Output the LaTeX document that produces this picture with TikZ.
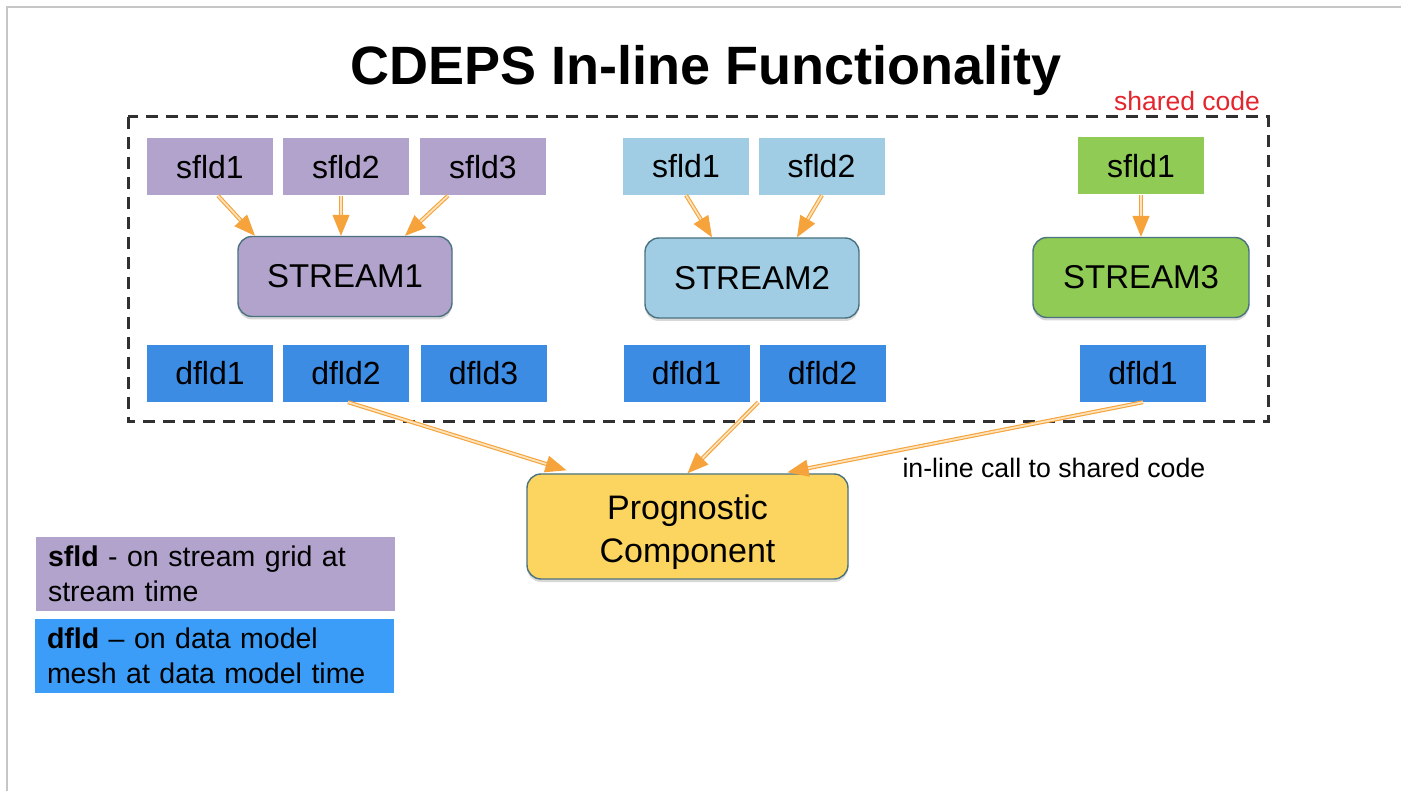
\documentclass[tikz,border=0pt]{standalone}
\usepackage{fontspec}
\setmainfont{Liberation Sans}
\usetikzlibrary{arrows.meta,calc,shadows}
\definecolor{purp}{HTML}{B1A3CB}
\definecolor{lblue}{HTML}{A0CDE4}
\definecolor{lgreen}{HTML}{8FCB55}
\definecolor{dblue}{HTML}{3C8CE4}
\definecolor{legblue}{HTML}{3B9DF7}
\definecolor{ylw}{HTML}{FCD560}
\definecolor{edge}{HTML}{4A7280}
\definecolor{orarr}{HTML}{F5A33A}
\definecolor{orpale}{HTML}{FDE3BC}
\definecolor{redtxt}{HTML}{E5252E}
\definecolor{dashc}{HTML}{303030}
\begin{document}
\begin{tikzpicture}[x=1pt,y=-1pt,
  fld/.style={rectangle, draw=none, minimum width=126pt, minimum height=57pt, inner sep=0pt,
    font=\fontsize{32}{38}\selectfont},
  sf1/.style={fld, fill=purp},
  sf2/.style={fld, fill=lblue},
  sf3/.style={fld, fill=lgreen},
  df/.style={fld, fill=dblue},
  strm/.style={rectangle, rounded corners=14pt, draw=edge, line width=1.4pt,
    minimum width=214pt, minimum height=80pt, inner sep=0pt,
    font=\fontsize{33}{39}\selectfont,
    drop shadow={shadow xshift=0pt, shadow yshift=-3pt, opacity=0.3}},
  arr/.style={draw=orarr, double=orpale, double distance=1.8pt, line width=1.1pt,
    -{Triangle[length=21pt,width=17pt,fill=orarr,color=orarr]}},
  legbox/.style={rectangle, minimum width=359pt, minimum height=74pt, text width=335pt,
    inner xsep=12pt, align=left, font=\fontsize{28.5}{35}\selectfont}
]
\useasboundingbox (0,0) rectangle (1401,791);
\fill[white] (0,0) rectangle (1401,791);
\draw[gray!45, line width=1.5pt] (7,791) -- (7,7) -- (1401,7);

\node[font=\fontsize{54}{62}\selectfont\bfseries] (title) at (706,71) {CDEPS In-line Functionality};

\draw[dashc, line width=3pt, dash pattern=on 12pt off 8pt] (128,117) rectangle (1268,422);
\node[text=redtxt, font=\fontsize{26.5}{30}\selectfont] (shared) at (1187,101) {shared code};

% stream 1
\node[sf1] (s11) at (210,167) {sfld1};
\node[sf1] (s12) at (346,167) {sfld2};
\node[sf1] (s13) at (483,167) {sfld3};
\node[strm, fill=purp] (st1) at (345,276.5) {STREAM1};
\node[df] (d11) at (210,373.5) {dfld1};
\node[df] (d12) at (346,373.5) {dfld2};
\node[df] (d13) at (483.5,373.5) {dfld3};

% stream 2
\node[sf2] (s21) at (686,166.5) {sfld1};
\node[sf2] (s22) at (821.5,166.5) {sfld2};
\node[strm, fill=lblue] (st2) at (752,278) {STREAM2};
\node[df] (d21) at (686.5,373.5) {dfld1};
\node[df] (d22) at (822.5,373.5) {dfld2};

% stream 3
\node[sf3] (s31) at (1141,166) {sfld1};
\node[strm, fill=lgreen, minimum width=216pt] (st3) at (1141,277.5) {STREAM3};
\node[df] (d31) at (1143,373.5) {dfld1};

% prognostic
\node[strm, fill=ylw, minimum width=321pt, minimum height=105pt,
  label={[align=center, yshift=-6pt, font=\fontsize{34}{43}\selectfont]center:Prognostic\\Component}]
  (prog) at (687.5,526.5) {};

\node[anchor=west, font=\fontsize{26.7}{30}\selectfont] (inl) at (899,468) {in-line call to shared code};

% arrows
\draw[arr] ($(s11.south)+(8,0)$) -- ($(st1.north)+(-90,0)$);
\draw[arr] ($(s12.south)+(-5,0)$) -- ($(st1.north)+(-4,0)$);
\draw[arr] ($(s13.south)+(-35,0)$) -- ($(st1.north)+(60,0)$);
\draw[arr] (s21.south) -- ($(st2.north)+(-40,0)$);
\draw[arr] ($(s22.south)+(0.5,0)$) -- ($(st2.north)+(45,0)$);
\draw[arr] (s31.south) -- (st3.north);
\draw[arr] ($(d12.south)+(2,0)$) -- ($(prog.north)+(-121,-3)$);
\draw[arr] ($(d22.south west)+(-1,0)$) -- (prog.north);
\draw[arr] (d31.south) -- ($(prog.north)+(100,-1)$);

% legend
\node[legbox, fill=purp] (leg1) at (215.5,574) {\textbf{sfld} - on stream grid at\\stream time};
\node[legbox, fill=legblue] (leg2) at (214.5,656) {\textbf{dfld} -- on data model\\mesh at data model time};
\end{tikzpicture}
\end{document}
